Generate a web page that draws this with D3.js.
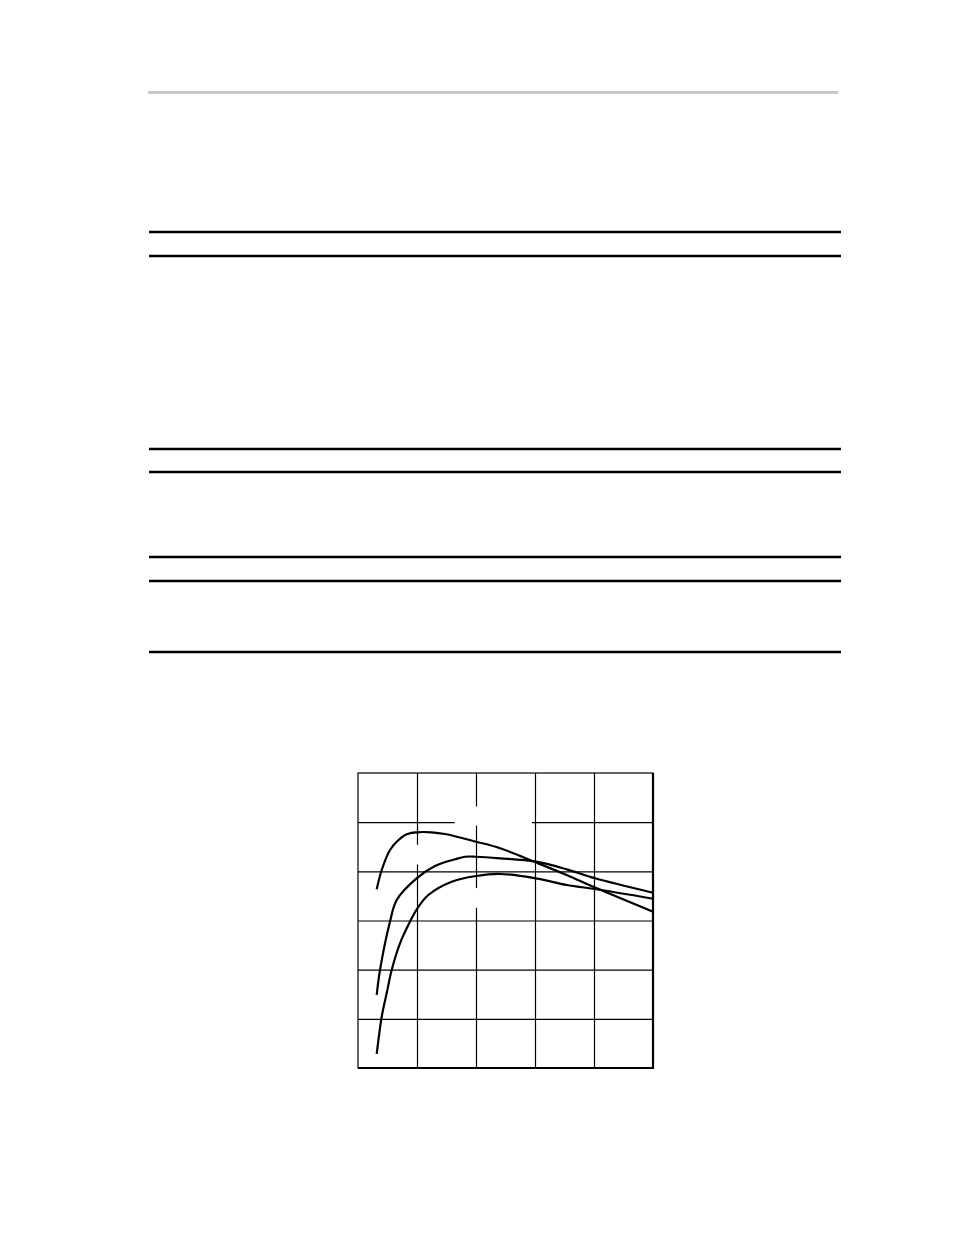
<!DOCTYPE html>
<html>
<head>
<meta charset="utf-8">
<script src="https://cdn.jsdelivr.net/npm/d3@7.9.0/dist/d3.min.js"></script>
<style>
  html, body { margin: 0; padding: 0; background: #fff; }
  svg { display: block; }
</style>
</head>
<body>
<div id="page"></div>
<script>
// x in grid columns (0..5), y in grid rows (0..6)
const xTicks = [0, 1, 2, 3, 4, 5];
const yTicks = [0, 1, 2, 3, 4, 5, 6];

const curveA = [
    [0.317, 3.634], [0.402, 4.027], [0.542, 4.434], [0.656, 4.602], [0.825, 4.753],
    [0.995, 4.794], [1.249, 4.794], [1.475, 4.759], [2.005, 4.602], [2.407, 4.470],
    [3.012, 4.183], [3.537, 3.925], [4.017, 3.670], [5.0, 3.179]
];
const curveB = [
    [0.317, 1.485], [0.373, 1.993], [0.542, 2.975], [0.656, 3.417], [0.988, 3.850],
    [1.305, 4.108], [1.644, 4.245], [1.814, 4.297], [2.005, 4.297], [2.407, 4.265],
    [3.012, 4.196], [3.537, 4.041], [4.017, 3.858], [5.0, 3.565]
];
const curveC = [
    [0.317, 0.285], [0.402, 1.043], [0.486, 1.519], [0.571, 1.993], [0.712, 2.536],
    [0.910, 3.045], [0.988, 3.213], [1.192, 3.518], [1.588, 3.789], [2.005, 3.905],
    [2.407, 3.946], [3.012, 3.858], [3.537, 3.722], [4.017, 3.640], [5.0, 3.443]
];

// label boxes (text itself is blank in the picture), in grid units: [x0, y0, x1, y1]
const labelBoxes = [
    [1.64, 4.93, 2.95, 5.32],
    [0.85, 4.14, 1.70, 4.54],
    [1.50, 3.26, 2.40, 3.66]
];

// horizontal page rules
const ruleYs = [232, 256, 449, 472, 557, 581, 652];

const svg = d3.select('#page')
    .append('svg')
    .attr('width', 954)
    .attr('height', 1235);

// header rule (grey)
svg.append('line')
    .attr('x1', 148).attr('x2', 838)
    .attr('y1', 92.5).attr('y2', 92.5)
    .attr('stroke', '#c8c8c8')
    .attr('stroke-width', 3);

ruleYs.forEach(ry => {
    svg.append('line')
        .attr('x1', 149).attr('x2', 841)
        .attr('y1', ry).attr('y2', ry)
        .attr('stroke', 'black')
        .attr('stroke-width', 2.6);
});

// chart
const plotL = 358, plotR = 653, plotT = 773, plotB = 1068;

const x = d3.scaleLinear().domain([0, 5]).range([plotL, plotR]);
const y = d3.scaleLinear().domain([0, 6]).range([plotB, plotT]);

const grid = svg.append('g');

// vertical grid lines
xTicks.slice(1, -1).forEach(t => {
    grid.append('line')
        .attr('x1', x(t) + 0.5).attr('x2', x(t) + 0.5)
        .attr('y1', plotT).attr('y2', plotB)
        .attr('stroke', 'black')
        .attr('stroke-width', 1.2);
});

// horizontal grid lines
yTicks.slice(1, -1).forEach(t => {
    grid.append('line')
        .attr('x1', plotL).attr('x2', plotR)
        .attr('y1', y(t) + 0.5).attr('y2', y(t) + 0.5)
        .attr('stroke', 'black')
        .attr('stroke-width', 1.2);
});

// white boxes behind the (missing) curve labels
labelBoxes.forEach(b => {
    svg.append('rect')
        .attr('x', x(b[0]))
        .attr('y', y(b[3]))
        .attr('width', x(b[2]) - x(b[0]))
        .attr('height', y(b[1]) - y(b[3]))
        .attr('fill', 'white');
});

// frame: thin top/left, heavier right/bottom
svg.append('rect')
    .attr('x', plotL).attr('y', plotT)
    .attr('width', plotR - plotL).attr('height', plotB - plotT)
    .attr('fill', 'none')
    .attr('stroke', 'black')
    .attr('stroke-width', 1.2);

svg.append('path')
    .attr('d', `M${plotR},${plotT} L${plotR},${plotB} L${plotL},${plotB}`)
    .attr('fill', 'none')
    .attr('stroke', 'black')
    .attr('stroke-width', 2.2);

const line = d3.line()
    .x(d => x(d[0]))
    .y(d => y(d[1]))
    .curve(d3.curveCatmullRom.alpha(0.5));

[curveA, curveB, curveC].forEach(c => {
    svg.append('path')
        .attr('d', line(c))
        .attr('fill', 'none')
        .attr('stroke', 'black')
        .attr('stroke-width', 2.2);
});
</script>
</body>
</html>
